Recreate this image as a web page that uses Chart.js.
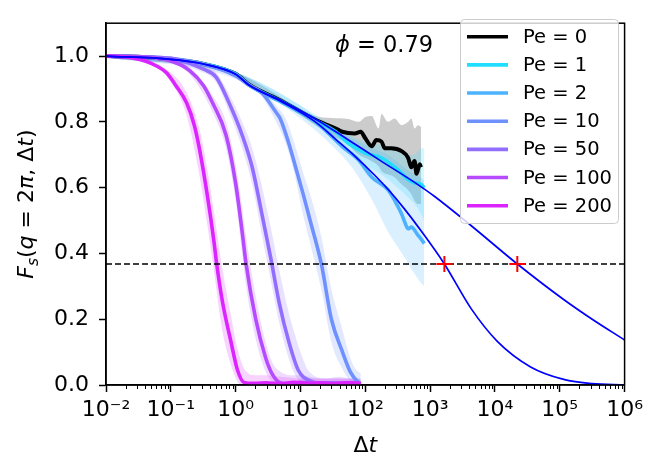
<!DOCTYPE html>
<html>
<head>
<meta charset="utf-8">
<script src="https://cdn.jsdelivr.net/npm/chart.js"></script>
<style>
  html, body { margin: 0; padding: 0; background: #fff; }
  #wrap { width: 648px; height: 457px; }
</style>
</head>
<body>
<div id="wrap"><canvas id="chart" width="648" height="457"></canvas></div>
<script>
// ============================= data (Δt, F_s)

const peValues = [0, 1, 2, 10, 50, 100, 200]
const peColors = ['#000000', '#21ddff', '#4db2ff', '#6e91ff', '#916eff', '#b54aff', '#db24ff']

const t0 = [0.01, 0.03, 0.1, 0.32, 1, 1.6, 5.25, 17, 35, 44, 69, 85, 100, 126, 148, 178, 200, 251, 363, 457, 513, 575, 617, 692, 724]
const f0 = [1.0, 0.998, 0.99, 0.976, 0.946, 0.914, 0.862, 0.806, 0.78, 0.77, 0.765, 0.77, 0.75, 0.726, 0.745, 0.74, 0.72, 0.72, 0.711, 0.691, 0.662, 0.681, 0.642, 0.671, 0.662]

const t1 = [0.01, 0.03, 0.1, 0.32, 1, 1.6, 5.25, 17, 35, 55, 100, 178, 316, 457, 575, 724, 813]
const f1 = [1.0, 0.998, 0.99, 0.976, 0.945, 0.912, 0.86, 0.805, 0.77, 0.735, 0.705, 0.69, 0.655, 0.625, 0.615, 0.61, 0.60]

const t2 = [0.01, 0.03, 0.1, 0.32, 1, 1.6, 5.25, 17, 24, 44, 78, 126, 224, 316, 363, 407, 457, 513, 646, 776, 813]
const f2 = [1.0, 0.998, 0.99, 0.976, 0.945, 0.912, 0.858, 0.80, 0.775, 0.725, 0.685, 0.632, 0.593, 0.544, 0.52, 0.495, 0.475, 0.48, 0.456, 0.436, 0.43]

const t10 = [0.01, 0.1, 0.32, 1, 1.6, 2.57, 4.2, 4.9, 6.6, 8.9, 11.2, 14.1, 21, 30, 44, 59, 78, 85]
const f10 = [1.0, 0.993, 0.975, 0.94, 0.912, 0.887, 0.829, 0.809, 0.735, 0.645, 0.575, 0.50, 0.368, 0.20, 0.103, 0.039, 0.008, 0.004]

const t50 = [0.01, 0.1, 0.32, 0.5, 0.79, 1.26, 1.8, 2.57, 3.47, 4.7, 6.6, 9.3, 15, 20, 30, 45, 60, 85]
const f50 = [1.0, 0.993, 0.96, 0.936, 0.858, 0.76, 0.662, 0.515, 0.387, 0.25, 0.132, 0.044, 0.01, 0.005, 0.007, 0.004, 0.006, 0.004]

const t100 = [0.01, 0.03, 0.1, 0.195, 0.32, 0.44, 0.71, 1, 1.26, 1.45, 2.04, 2.9, 3.65, 4.9, 7, 10, 15, 22, 32, 45, 60, 85]
const f100 = [1.0, 0.998, 0.985, 0.956, 0.91, 0.858, 0.76, 0.613, 0.466, 0.368, 0.20, 0.083, 0.034, 0.007, 0.004, 0.008, 0.005, 0.007, 0.004, 0.006, 0.005, 0.004]

const t200 = [0.01, 0.02, 0.04, 0.06, 0.085, 0.12, 0.175, 0.23, 0.275, 0.37, 0.46, 0.51, 0.63, 0.85, 1.07, 1.35, 2, 3, 5, 8, 12, 20, 30, 50, 85]
const f200 = [1.0, 0.997, 0.985, 0.97, 0.95, 0.91, 0.858, 0.79, 0.72, 0.57, 0.44, 0.368, 0.25, 0.13, 0.045, 0.008, 0.005, 0.007, 0.004, 0.008, 0.005, 0.006, 0.004, 0.007, 0.005]

// shaded spread (upper / lower edge) of each series
const bt0 = [0.01, 1, 10, 17, 30, 55, 79, 100, 126, 160, 178, 224, 282, 363, 457, 513, 575, 646, 724]
const hi0 = [1.0, 0.95, 0.84, 0.818, 0.812, 0.809, 0.80, 0.815, 0.818, 0.78, 0.824, 0.80, 0.81, 0.79, 0.80, 0.81, 0.78, 0.79, 0.785]
const lo0 = [0.996, 0.94, 0.82, 0.79, 0.76, 0.73, 0.70, 0.69, 0.68, 0.665, 0.65, 0.64, 0.632, 0.61, 0.593, 0.58, 0.56, 0.55, 0.55]

const bt1 = [0.01, 1, 10, 30, 55, 100, 178, 316, 457, 575, 724, 813]
const hi1 = [1.0, 0.95, 0.85, 0.79, 0.76, 0.74, 0.73, 0.71, 0.70, 0.70, 0.72, 0.72]
const lo1 = [0.996, 0.94, 0.82, 0.755, 0.71, 0.67, 0.64, 0.60, 0.57, 0.55, 0.52, 0.50]

const bt2 = [0.01, 1, 10, 30, 62, 126, 224, 407, 575, 724, 813]
const hi2 = [1.0, 0.95, 0.85, 0.78, 0.75, 0.72, 0.70, 0.66, 0.64, 0.63, 0.62]
const lo2 = [0.996, 0.94, 0.81, 0.73, 0.662, 0.564, 0.466, 0.387, 0.338, 0.31, 0.30]

const bt10 = [0.01, 1, 2.57, 4.2, 5.9, 7.9, 11.2, 14.1, 21, 30, 44, 59, 70, 85]
const hi10 = [1.0, 0.95, 0.897, 0.85, 0.81, 0.74, 0.64, 0.58, 0.45, 0.29, 0.17, 0.08, 0.05, 0.035]
const lo10 = [0.996, 0.93, 0.875, 0.80, 0.735, 0.65, 0.51, 0.43, 0.29, 0.13, 0.05, 0.01, 0.0, 0.0]

const bt50 = [0.01, 0.32, 0.5, 0.79, 1.26, 1.8, 2.57, 3.47, 4.7, 6.6, 8.3, 10, 12.6, 15.8, 25, 40, 60, 85]
const hi50 = [1.0, 0.97, 0.95, 0.885, 0.80, 0.72, 0.60, 0.48, 0.35, 0.22, 0.15, 0.10, 0.05, 0.03, 0.02, 0.025, 0.02, 0.02]
const lo50 = [0.996, 0.95, 0.92, 0.83, 0.72, 0.61, 0.45, 0.32, 0.19, 0.08, 0.03, 0.01, 0, 0, 0, 0, 0, 0]

const bt100 = [0.01, 0.1, 0.195, 0.44, 0.71, 1, 1.26, 1.45, 2.04, 2.9, 3.65, 4.9, 7, 10, 20, 40, 85]
const hi100 = [1.0, 0.99, 0.966, 0.88, 0.80, 0.67, 0.54, 0.45, 0.27, 0.13, 0.07, 0.04, 0.03, 0.03, 0.02, 0.02, 0.02]
const lo100 = [0.996, 0.98, 0.945, 0.83, 0.72, 0.56, 0.40, 0.30, 0.14, 0.04, 0.01, 0, 0, 0, 0, 0, 0]

const bt200 = [0.01, 0.04, 0.085, 0.175, 0.275, 0.37, 0.46, 0.63, 0.85, 1.07, 1.35, 2, 3, 5, 10, 20, 40, 85]
const hi200 = [1.0, 0.99, 0.96, 0.89, 0.78, 0.65, 0.53, 0.35, 0.21, 0.11, 0.05, 0.03, 0.03, 0.025, 0.02, 0.02, 0.02, 0.015]
const lo200 = [0.996, 0.98, 0.94, 0.82, 0.64, 0.48, 0.35, 0.16, 0.06, 0.01, 0, 0, 0, 0, 0, 0, 0, 0]

// thin blue fit curves
const tFitA = [0.01, 0.1, 0.32, 1, 1.6, 5.25, 17, 34, 69, 141, 224, 407, 724, 1660, 4266, 10965, 35480, 114800, 316000, 1e6]
const fFitA = [1.0, 0.99, 0.976, 0.945, 0.912, 0.86, 0.80, 0.749, 0.696, 0.637, 0.595, 0.534, 0.469, 0.368, 0.233, 0.132, 0.055, 0.017, 0.004, 0.0]
const tFitB = [0.01, 0.1, 0.32, 1, 1.6, 5.25, 17, 55, 178, 575, 1175, 4266, 22130, 114800, 316000, 1e6]
const fFitB = [1.0, 0.99, 0.976, 0.945, 0.912, 0.863, 0.809, 0.745, 0.68, 0.616, 0.573, 0.485, 0.368, 0.26, 0.2, 0.137]

const level = 0.368          // dashed 1/e line
const crossT = [1660, 22130] // red markers where fits meet 1/e

const xDecades = [-2, -1, 0, 1, 2, 3, 4, 5, 6]
const yTicks = [0.0, 0.2, 0.4, 0.6, 0.8, 1.0]

// ============================= build datasets

const FONT = 'DejaVu Sans'
const pts = (ts, fs) => ts.map((t, i) => ({ x: t, y: fs[i] }))

const lines = [[t0, f0], [t1, f1], [t2, f2], [t10, f10], [t50, f50], [t100, f100], [t200, f200]]
const bands = [[bt0, hi0, lo0], [bt1, hi1, lo1], [bt2, hi2, lo2], [bt10, hi10, lo10], [bt50, hi50, lo50], [bt100, hi100, lo100], [bt200, hi200, lo200]]

const hexA = (hex, a) => {
    const n = parseInt(hex.slice(1), 16)
    return `rgba(${n >> 16},${(n >> 8) & 255},${n & 255},${a})`
}

const datasets = []
const smooth = { cubicInterpolationMode: 'monotone', pointRadius: 0, clip: 0 }

bands.forEach(([bt, hi, lo], i) => {
    datasets.push({ ...smooth, data: pts(bt, hi), borderWidth: 0, fill: false, order: 30 - i })
    datasets.push({ ...smooth, data: pts(bt, lo), borderWidth: 0, fill: '-1',
        backgroundColor: hexA(peColors[i], 0.2), order: 30 - i })
})

lines.forEach(([t, f], i) => {
    datasets.push({ ...smooth, data: pts(t, f), borderColor: peColors[i], borderWidth: i === 0 ? 4 : 3.6,
        fill: false, borderJoinStyle: 'round', order: 10 - i })
})

datasets.push({ ...smooth, data: pts(tFitA, fFitA), borderColor: '#0000ff', borderWidth: 1.7, order: 2 })
datasets.push({ ...smooth, data: pts(tFitB, fFitB), borderColor: '#0000ff', borderWidth: 1.7, order: 2 })

datasets.push({ data: [{ x: 1e-2, y: level }, { x: 1e6, y: level }], borderColor: '#000', borderWidth: 1.5,
    borderDash: [6, 3], pointRadius: 0, order: 1, clip: 0 })

datasets.push({ type: 'scatter', data: crossT.map(t => ({ x: t, y: level })), pointStyle: 'cross',
    pointRadius: 8, borderColor: '#ff0000', borderWidth: 2, showLine: false, order: 0 })

// ============================= text, frame and legend drawn on top

const sup = (n) => String(n).split('').map(c => c === '-' ? '⁻' : '⁰¹²³⁴⁵⁶⁷⁸⁹'[+c]).join('')

const drawParts = (ctx, parts, x0, y0) => {
    let x = x0
    parts.forEach(([txt, font, dy]) => {
        ctx.font = font
        ctx.fillText(txt, x, y0 + (dy || 0))
        x += ctx.measureText(txt).width
    })
}
const partsWidth = (ctx, parts) => parts.reduce((w, [txt, font]) => { ctx.font = font; return w + ctx.measureText(txt).width }, 0)

const decor = {
    id: 'decor',
    afterDraw(chart) {
        const { ctx, chartArea: a, scales: { x } } = chart
        ctx.save()
        ctx.strokeStyle = '#000'
        ctx.fillStyle = '#000'

        // minor ticks on the log axis
        ctx.lineWidth = 1
        xDecades.slice(0, -1).forEach(d => {
            for (let m = 2; m < 10; m++) {
                const px = Math.round(x.getPixelForValue(m * Math.pow(10, d))) + 0.5
                ctx.beginPath(); ctx.moveTo(px, a.bottom); ctx.lineTo(px, a.bottom + 4); ctx.stroke()
            }
        })

        // frame
        ctx.lineWidth = 1.5
        ctx.strokeRect(a.left, a.top, a.right - a.left, a.bottom - a.top)

        // legend
        ctx.beginPath()
        ctx.roundRect(460.5, 19.5, 158, 204, 4)
        ctx.fillStyle = 'rgba(255,255,255,0.8)'
        ctx.fill()
        ctx.strokeStyle = '#cccccc'
        ctx.lineWidth = 1
        ctx.stroke()
        ctx.font = `19.5px "${FONT}"`
        ctx.textBaseline = 'middle'
        peValues.forEach((pe, i) => {
            const yy = 36.7 + i * 28.17
            ctx.strokeStyle = peColors[i]
            ctx.lineWidth = 3.6
            ctx.beginPath(); ctx.moveTo(467, yy); ctx.lineTo(508, yy); ctx.stroke()
            ctx.fillStyle = '#000'
            ctx.fillText(`Pe = ${pe}`, 523, yy + 1)
        })

        // annotation
        ctx.textBaseline = 'alphabetic'
        drawParts(ctx, [['ϕ', `italic 22.5px "${FONT}"`], [' = 0.79', `22.5px "${FONT}"`]], 335, 52)

        // x label
        const xl = [['Δ', `22px "${FONT}"`], ['t', `italic 22px "${FONT}"`]]
        drawParts(ctx, xl, (a.left + a.right) / 2 - partsWidth(ctx, xl) / 2, 452)

        // y label
        const n = `22px "${FONT}"`, it = `italic 22px "${FONT}"`
        const yl = [['F', it], ['s', `italic 15.5px "${FONT}"`, 5], ['(', n], ['q', it], [' = ', n], ['2', n],
            ['π', it], [', ', n], ['Δ', n], ['t', it], [')', n]]
        ctx.translate(33, (a.top + a.bottom) / 2)
        ctx.rotate(-Math.PI / 2)
        drawParts(ctx, yl, -partsWidth(ctx, yl) / 2, 0)
        ctx.restore()
    }
}

// ============================= chart

Chart.defaults.font.family = FONT
Chart.defaults.color = '#000'

new Chart(document.getElementById('chart'), {
    type: 'line',
    data: { datasets },
    options: {
        responsive: false,
        animation: false,
        devicePixelRatio: 1,
        layout: { padding: { top: 11, right: 20, left: 0, bottom: 0 } },
        plugins: { legend: { display: false }, tooltip: { enabled: false } },
        scales: {
            x: {
                type: 'logarithmic', min: 1e-2, max: 1e6,
                afterBuildTicks: (s) => { s.ticks = xDecades.map(d => ({ value: Math.pow(10, d), major: true })) },
                afterFit: (s) => { s.height = 72 },
                ticks: {
                    autoSkip: false, maxRotation: 0, padding: 5,
                    font: { size: 22 }, color: '#000',
                    callback: (v) => '10' + sup(Math.round(Math.log10(v)))
                },
                grid: { drawOnChartArea: false, tickLength: 7, tickColor: '#000', tickWidth: 1.5 },
                border: { color: '#000', width: 1.5 }
            },
            y: {
                min: 0, max: 1.1,
                afterBuildTicks: (s) => { s.ticks = yTicks.map(v => ({ value: v })) },
                afterFit: (s) => { s.width = 106 },
                ticks: { padding: 10, font: { size: 22 }, color: '#000', callback: (v) => v.toFixed(1) },
                grid: { drawOnChartArea: false, tickLength: 7, tickColor: '#000', tickWidth: 1.5 },
                border: { color: '#000', width: 1.5 }
            }
        }
    },
    plugins: [decor]
})
</script>
</body>
</html>
